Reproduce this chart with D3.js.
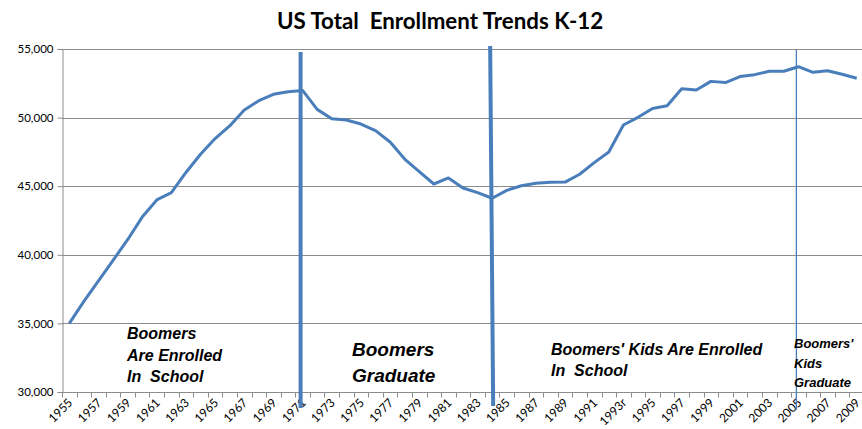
<!DOCTYPE html>
<html>
<head>
<meta charset="utf-8">
<script src="https://cdn.jsdelivr.net/npm/d3@7"></script>
<style>
  body { margin: 0; background: #fff; }
  svg text { font-family: Lato, "Open Sans", sans-serif; white-space: pre; }
</style>
</head>
<body>
<div id="chart"></div>
<script>
// enrollment in thousands
var years = [];
for (var yr = 1955; yr <= 2009; yr++) years.push(yr);

var enrollment = [
  35000, 36600, 38100, 39600, 41100, 42750, 44000, 44530, 46000, 47330,
  48470, 49390, 50560, 51230, 51700, 51890, 51980, 50600, 49920, 49830,
  49530, 49050, 48220, 46980, 46060, 45160, 45600, 44870, 44530, 44120,
  44700, 45030, 45210, 45280, 45300, 45870, 46720, 47490, 49460, 50020,
  50670, 50870, 52110, 52010, 52640, 52550, 52990, 53130, 53380, 53380,
  53710, 53300, 53420, 53160, 52870
];

var tickLabels = years.filter(function(d, i) { return i % 2 === 0; })
                      .map(function(d) { return d === 1993 ? "1993r" : String(d); });

var yTicks = [30000, 35000, 40000, 45000, 50000, 55000];

// marker lines and text blocks
var markers = [
  {year: 1971, top: 52, bottom: 408, width: 4, slant: 0},
  {year: 1984, top: 46, bottom: 406, width: 4, slant: 3},
  {year: 2005, top: 50, bottom: 410, width: 1.3, slant: 0}
];

var notes = [
  {lines: ["Boomers", "Are Enrolled", "In  School"], x: 127, y: 339, size: 16, gap: 21.5},
  {lines: ["Boomers", "Graduate"], x: 352, y: 356, size: 19, gap: 26},
  {lines: ["Boomers' Kids Are Enrolled", "In  School"], x: 551, y: 355, size: 16, gap: 21},
  {lines: ["Boomers'", "Kids", "Graduate"], x: 794, y: 348, size: 13, gap: 19.5}
];

var margin = {top: 49, right: 0, bottom: 37, left: 62},
    width = 862 - margin.left - margin.right,
    height = 429 - margin.top - margin.bottom;

var svg = d3.select("#chart")
            .append("svg")
                .attr("width", 862)
                .attr("height", 429);

var g = svg.append("g")
           .attr("transform", "translate(" + margin.left + "," + margin.top + ")");

var x = d3.scaleBand()
          .domain(years)
          .range([0, 802]);

var y = d3.scaleLinear()
          .domain([30000, 55000])
          .range([height, 0]);

var cx = function(yr) { return x(yr) + x.bandwidth() / 2; };

// gridlines
g.append("g")
  .selectAll("line")
  .data(yTicks.slice(1))
  .enter()
  .append("line")
    .attr("x1", 0)
    .attr("x2", width)
    .attr("y1", function(d) { return Math.round(y(d)) + 0.5; })
    .attr("y2", function(d) { return Math.round(y(d)) + 0.5; })
    .attr("stroke", "#8c8c8c")
    .attr("stroke-width", 1);

// y axis
var yAxis = g.append("g")
  .attr("transform", "translate(0.5,0)")
  .call(d3.axisLeft(y).tickValues(yTicks).tickSize(5).tickPadding(4)
          .tickFormat(d3.format(",")));
yAxis.selectAll("text").style("font-size", "11.5px").attr("fill", "#000");
yAxis.selectAll("line").attr("stroke", "#8c8c8c");
yAxis.select(".domain").attr("stroke", "#8c8c8c");

// x axis: ticks on category boundaries
var xg = g.append("g").attr("transform", "translate(0," + (height + 0.5) + ")");
xg.append("line")
  .attr("x1", 0).attr("x2", width)
  .attr("stroke", "#8c8c8c");
xg.selectAll(".tk")
  .data(years.concat([2010]))
  .enter()
  .append("line")
    .attr("class", "tk")
    .attr("x1", function(d, i) { return Math.round(i * x.step()) + 0.5; })
    .attr("x2", function(d, i) { return Math.round(i * x.step()) + 0.5; })
    .attr("y1", 0).attr("y2", 5)
    .attr("stroke", "#8c8c8c");

xg.selectAll(".lbl")
  .data(tickLabels)
  .enter()
  .append("text")
    .attr("class", "lbl")
    .attr("transform", function(d) {
        return "translate(" + (cx(parseInt(d)) + 1) + ",8) rotate(-45)";
    })
    .attr("text-anchor", "end")
    .attr("dy", "0.35em")
    .style("font-size", "12px")
    .text(function(d) { return d; });

// enrollment line
var line = d3.line()
             .x(function(d, i) { return cx(years[i]); })
             .y(function(d) { return y(d); });

g.append("path")
  .datum(enrollment)
  .attr("d", line)
  .attr("fill", "none")
  .attr("stroke", "#4a7ebb")
  .attr("stroke-width", 3)
  .attr("stroke-linejoin", "round");

// marker lines
svg.append("g")
  .selectAll("line")
  .data(markers)
  .enter()
  .append("line")
    .attr("x1", function(d) { return margin.left + cx(d.year) - 2; })
    .attr("x2", function(d) { return margin.left + cx(d.year) - 2 + d.slant; })
    .attr("y1", function(d) { return d.top; })
    .attr("y2", function(d) { return d.bottom; })
    .attr("stroke", "#4a7ebb")
    .attr("stroke-width", function(d) { return d.width; });

// notes
notes.forEach(function(n) {
    var t = svg.append("text")
               .attr("x", n.x)
               .attr("y", n.y)
               .style("font-family", "'Liberation Sans', Arial, sans-serif")
               .style("font-size", n.size + "px")
               .style("font-weight", "bold")
               .style("font-style", "italic");
    n.lines.forEach(function(l, i) {
        t.append("tspan")
         .attr("x", n.x)
         .attr("y", n.y + i * n.gap)
         .text(l);
    });
});

// title
svg.append("text")
  .attr("x", 440)
  .attr("y", 29)
  .attr("text-anchor", "middle")
  .style("font-size", "22.3px")
  .style("font-weight", "bold")
  .text("US Total  Enrollment Trends K-12");
</script>
</body>
</html>
